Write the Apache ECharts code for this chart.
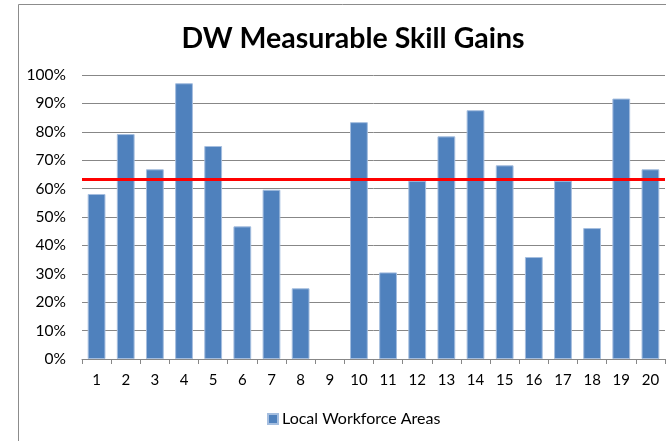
<!DOCTYPE html>
<html>
<head>
<meta charset="utf-8">
<script src="https://cdn.jsdelivr.net/npm/echarts@6.0.0/dist/echarts.min.js"></script>
<style>
  html, body { margin: 0; padding: 0; background: #ffffff; }
  #chart { width: 666px; height: 441px; }
</style>
</head>
<body>
<div id="chart"></div>
<script>
// 地区编号与得分（百分比）
const 地区列表 = ['1', '2', '3', '4', '5', '6', '7', '8', '9', '10',
  '11', '12', '13', '14', '15', '16', '17', '18', '19', '20']
const 技能提升率 = [58.1, 79.2, 66.8, 97.1, 75.0, 46.7, 59.6, 24.9, 0, 83.4,
  30.5, 62.8, 78.4, 87.6, 68.2, 35.9, 62.8, 46.1, 91.7, 66.8]
const 目标线 = 63.2
const 纵轴刻度 = [0, 10, 20, 30, 40, 50, 60, 70, 80, 90, 100]

const 字体 = 'Lato, "Open Sans", sans-serif'
const 柱颜色 = '#4F81BD'
const 网格颜色 = '#878787'

const 图表 = echarts.init(document.getElementById('chart'))

图表.setOption({
  animation: false,
  textStyle: { fontFamily: 字体 },
  title: {
    text: 'DW Measurable Skill Gains',
    left: 348,
    top: 19,
    textAlign: 'center',
    textStyle: {
      fontFamily: 字体,
      fontSize: 28.5,
      fontWeight: 'bold',
      color: '#000000',
    },
  },
  legend: {
    left: 262,
    top: 406,
    itemWidth: 10,
    itemHeight: 10,
    itemGap: 4,
    icon: 'rect',
    textStyle: { fontFamily: 字体, fontSize: 16, color: '#000000', padding: [0, 0, 0, -1] },
    data: ['Local Workforce Areas'],
  },
  graphic: [
    {
      type: 'rect',
      left: 16,
      top: 2,
      shape: { width: 700, height: 480 },
      style: { fill: 'none', stroke: '#8c8c8c', lineWidth: 1 },
      silent: true,
      z: -1,
    },
  ],
  grid: {
    left: 82,
    right: 1,
    top: 75,
    bottom: 82,
    containLabel: false,
  },
  xAxis: {
    type: 'category',
    data: 地区列表,
    axisLine: { lineStyle: { color: 网格颜色, width: 1 } },
    axisTick: { show: true, length: 5, alignWithLabel: false, lineStyle: { color: 网格颜色 } },
    axisLabel: { color: '#000000', fontSize: 15, fontFamily: 字体, margin: 14 },
  },
  yAxis: {
    type: 'value',
    min: 纵轴刻度[0],
    max: 纵轴刻度[纵轴刻度.length - 1],
    interval: 10,
    axisLine: { show: false },
    axisTick: { show: false },
    splitLine: { lineStyle: { color: 网格颜色, width: 1 } },
    axisLabel: {
      color: '#000000',
      fontSize: 15.5,
      fontFamily: 字体,
      margin: 16,
      formatter: (值) => `${值}%`,
    },
  },
  series: [
    {
      name: 'Local Workforce Areas',
      type: 'bar',
      // 零值不画边框，免得出现一条细线
      data: 技能提升率.map((值) => {
        return 值 === 0 ? { value: 值, itemStyle: { borderWidth: 0 } } : 值
      }),
      barWidth: '61%',
      itemStyle: { color: 柱颜色, borderColor: '#A5BEDF', borderWidth: 1 },
      markLine: {
        silent: true,
        symbol: 'none',
        label: { show: false },
        lineStyle: { color: '#FF0000', type: 'solid', width: 3 },
        data: [{ yAxis: 目标线 }],
      },
    },
  ],
})
</script>
</body>
</html>
